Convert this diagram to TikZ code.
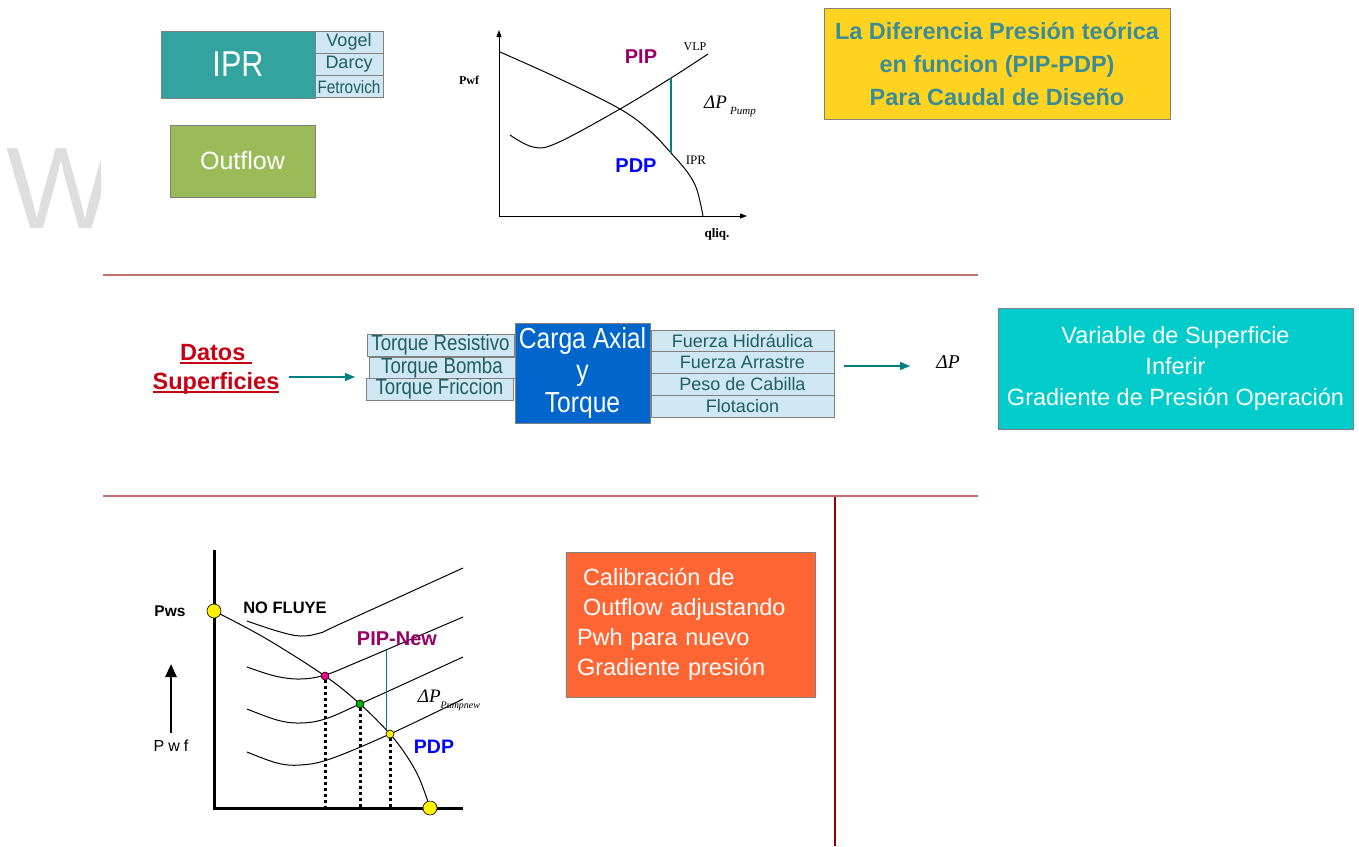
\documentclass[tikz,border=0pt]{standalone}
\usepackage{fontspec}
\setmainfont{Liberation Sans}
\newfontfamily\serif{Liberation Serif}
\newfontfamily\narrow[FakeStretch=0.85]{Liberation Sans}
\usetikzlibrary{positioning,arrows.meta}
\newcommand{\tam}[2]{\fontsize{#1}{#2}\selectfont}
\newcommand{\subrayar}[1]{\setbox0\hbox{#1}\rlap{\rule[-3.5pt]{\wd0}{1.6pt}}\box0}
\definecolor{iprteal}{RGB}{51,163,160}
\definecolor{celeste}{RGB}{207,230,243}
\definecolor{tealtext}{RGB}{30,95,95}
\definecolor{verde}{RGB}{155,187,89}
\definecolor{amarillo}{RGB}{255,211,32}
\definecolor{amtext}{RGB}{58,140,150}
\definecolor{raya}{RGB}{196,112,112}
\definecolor{vino}{RGB}{140,0,0}
\definecolor{azul}{RGB}{0,102,204}
\definecolor{cian}{RGB}{0,204,204}
\definecolor{naranja}{RGB}{255,102,51}
\definecolor{rojo}{RGB}{200,0,20}
\definecolor{verdeazul}{RGB}{0,128,128}
\definecolor{morado}{RGB}{153,0,102}
\definecolor{gris}{RGB}{128,128,128}
\definecolor{marca}{RGB}{222,222,222}
\tikzset{caja/.style={draw=gris, line width=1pt, inner sep=0pt, outer sep=0pt}}
\tikzset{cajita/.style={caja, fill=celeste, text=tealtext, font=\tam{18}{20}}}
\tikzset{grande/.style={caja, text=white, align=center}}
\tikzset{etiq/.style={inner sep=0pt}}
\tikzset{flechita/.style={-{Triangle[length=10pt,width=8pt]}, verdeazul, line width=1.2pt}}
\tikzset{eje/.style={-{Triangle[length=7pt,width=5pt]}, line width=1pt}}
\tikzset{curva/.style={line width=1pt, smooth, tension=0.6}}
\tikzset{punto/.style={circle, draw=black, line width=0.6pt, inner sep=0pt, minimum size=#1}}
\tikzset{punteada/.style={line width=3pt, dash pattern=on 3pt off 3pt}}

\begin{document}
\begin{tikzpicture}[x=1pt,y=-1pt]
    \useasboundingbox (0,0) rectangle (1359,846);
    \begin{scope}
      \clip (0,120) rectangle (100,240);
      \node[etiq, anchor=base west, text=marca, font=\tam{116}{116}] (marcaw) at (6,228) {W};
    \end{scope}

    \node[grande, fill=iprteal, minimum width=154, minimum height=67, anchor=north west, font=\narrow\tam{36}{40}] (ipr) at (161,31) {IPR};
    \node[cajita, minimum width=68, minimum height=22.3, anchor=north west] (vogel) at (ipr.north east) {Vogel};
    \node[cajita, minimum width=68, minimum height=22.3, below=0pt of vogel] (darcy) {Darcy};
    \node[cajita, minimum width=68, minimum height=22.3, below=0pt of darcy, font=\narrow\tam{18}{20}] (fetro) {Fetrovich};
    \node[grande, fill=verde, minimum width=145, minimum height=72, anchor=north west, font=\tam{25}{28}] (outflow) at (170,125) {Outflow};

    \coordinate (o1) at (499,216);
    \draw[eje] (o1) -- (499,30);
    \draw[eje] (o1) -- (747,216);
    \draw[curva] plot coordinates {(500,52) (560,79) (620,109) (650,131) (671,153) (688,173) (697,190) (703,216)};
    \draw[curva] plot coordinates {(510,135) (533,147) (557,143) (620,109) (671,78) (708,54)};
    \coordinate (pip1) at (671,78);
    \coordinate (pdp1) at (671,153);
    \draw[verdeazul, line width=1.2pt] (pip1) -- (pdp1);
    \node[etiq, font=\serif\bfseries\tam{12}{14}] (pwf1) at (469,80) {Pwf};
    \node[etiq, font=\serif\bfseries\tam{13}{15}] (qliq) at (717,234) {qliq.};
    \node[etiq, font=\serif\tam{12}{14}] (vlp) at (695,47) {VLP};
    \node[etiq, font=\serif\tam{13}{15}] (iprlab) at (696,160) {IPR};
    \node[etiq, text=morado, font=\bfseries\tam{20}{22}] (pip) at (641,57) {PIP};
    \node[etiq, text=blue, font=\bfseries\tam{20}{22}] (pdp) at (636,166) {PDP};
    \node[etiq, font=\serif\itshape\tam{19}{22}] (dpump) at (730,106) {ΔP\,\raisebox{-6pt}{\tam{11}{12}Pump}};

    \node[grande, fill=amarillo, text=amtext, minimum width=346, minimum height=111, anchor=north west, font=\bfseries\tam{23.5}{33}] (dif) at (824,8) {La Diferencia Presión teórica\\en funcion (PIP-PDP)\\Para Caudal de Diseño};

    \draw[raya, line width=2pt] (103,275) -- (978,275);
    \draw[raya, line width=2pt] (103,496) -- (978,496);
    \draw[vino, line width=1.2pt] (835,497) -- (835,846);

    \node[etiq, text=rojo, font=\bfseries\tam{23.5}{29}, align=center] (datos) at (216,369) {\subrayar{Datos\ }\\\subrayar{Superficies}};
    \node[cajita, font=\narrow\tam{22}{24}, minimum width=147, minimum height=22, anchor=north west] (tr) at (367,334) {Torque Resistivo};
    \node[cajita, font=\narrow\tam{22}{24}, minimum width=146, minimum height=21, anchor=north west] (tb) at (369,357) {Torque Bomba};
    \node[cajita, font=\narrow\tam{22}{24}, minimum width=147, minimum height=22, anchor=north west] (tf) at (366,378) {Torque Friccion};
    \node[grande, fill=azul, minimum width=135, minimum height=100, anchor=north west, font=\narrow\tam{29}{32}] (carga) at (515,323) {Carga Axial\\y\\Torque};
    \node[cajita, minimum width=183, minimum height=21.75, anchor=north west] (fh) at (651,330) {Fuerza Hidráulica};
    \node[cajita, minimum width=183, minimum height=21.75, below=0pt of fh] (fa) {Fuerza Arrastre};
    \node[cajita, minimum width=183, minimum height=21.75, below=0pt of fa] (pc) {Peso de Cabilla};
    \node[cajita, minimum width=183, minimum height=21.75, below=0pt of pc] (flot) {Flotacion};
    \node[etiq, font=\serif\itshape\tam{19.5}{22}] (dp) at (948,362) {ΔP};
    \coordinate (fl1) at (0,377);
    \coordinate (fl2) at (0,366);
    \draw[flechita, shorten <=9pt, shorten >=14pt] (datos.east |- fl1) -- (tb.west |- fl1);
    \draw[flechita, shorten <=10pt, shorten >=26pt] (fa.east |- fl2) -- (dp.west |- fl2);
    \node[grande, fill=cian, minimum width=355, minimum height=121, anchor=north west, font=\tam{23.5}{31}] (variable) at (998,308) {Variable de Superficie\\Inferir\\Gradiente de Presión Operación};

    \coordinate (o2) at (214,808);
    \draw[line width=3pt] (214,550) -- (o2) -- (463,808);
    \draw[curva] plot coordinates {(214,611) (265,638) (325,676) (360,704) (390,734) (408,758) (420,780) (430,808)};
    \draw[curva] plot coordinates {(247,621) (277,631) (300,636) (320,633) (340,624) (463,568)};
    \draw[curva] plot coordinates {(247,667) (275,676) (300,679) (325,675) (360,661) (463,617)};
    \draw[curva] plot coordinates {(247,709) (277,720) (300,723) (325,719) (360,704) (463,657)};
    \draw[curva] plot coordinates {(247,752) (277,763) (300,765) (330,759) (390,734) (463,699)};
    \node[punto=14pt, fill=yellow] (pws) at (214,611) {};
    \node[punto=14pt, fill=yellow] (qmax) at (430,808) {};
    \node[punto=8pt, fill=magenta] (p1) at (325,676) {};
    \node[punto=8pt, fill=green!70!black] (p2) at (360,704) {};
    \node[punto=8pt, fill=yellow] (p3) at (390,734) {};
    \draw[punteada] (p1.south) -- (p1 |- o2);
    \draw[punteada] (p2.south) -- (p2 |- o2);
    \draw[punteada] (p3.south) -- (p3 |- o2);
    \coordinate (pn) at (386,650);
    \draw[verdeazul, line width=1pt] (pn) -- (pn |- p3.north);
    \node[etiq, font=\bfseries\tam{15.5}{18}] (pwslab) at (170,611) {Pws};
    \node[etiq, font=\bfseries\tam{16.5}{18}] (nofluye) at (285,608) {NO FLUYE};
    \node[etiq, text=morado, font=\bfseries\tam{20}{22}] (pipnew) at (397,639) {PIP-New};
    \node[etiq, font=\serif\itshape\tam{19}{22}] (dpnew) at (449,700) {ΔP\raisebox{-6pt}{\tam{10}{12}Pumpnew}};
    \node[etiq, text=blue, font=\bfseries\tam{19.5}{22}] (pdpnew) at (434,747) {PDP};
    \node[etiq, font=\addfontfeature{LetterSpace=25}\tam{16}{18}] (pwf2) at (171,746) {Pwf};
    \draw[line width=2.5pt, -{Triangle[length=13pt,width=11pt]}, shorten <=7pt] (pwf2.north) -- ++(0,-76);

    \node[grande, fill=naranja, minimum width=249, minimum height=145, anchor=north west, text width=227, inner xsep=11pt, align=left, font=\tam{23.5}{30}] (calib) at (566,552) {\hspace*{6pt}Calibración de\\\hspace*{6pt}Outflow adjustando\\Pwh para nuevo\\Gradiente presión};
  \end{tikzpicture}
\end{document}
